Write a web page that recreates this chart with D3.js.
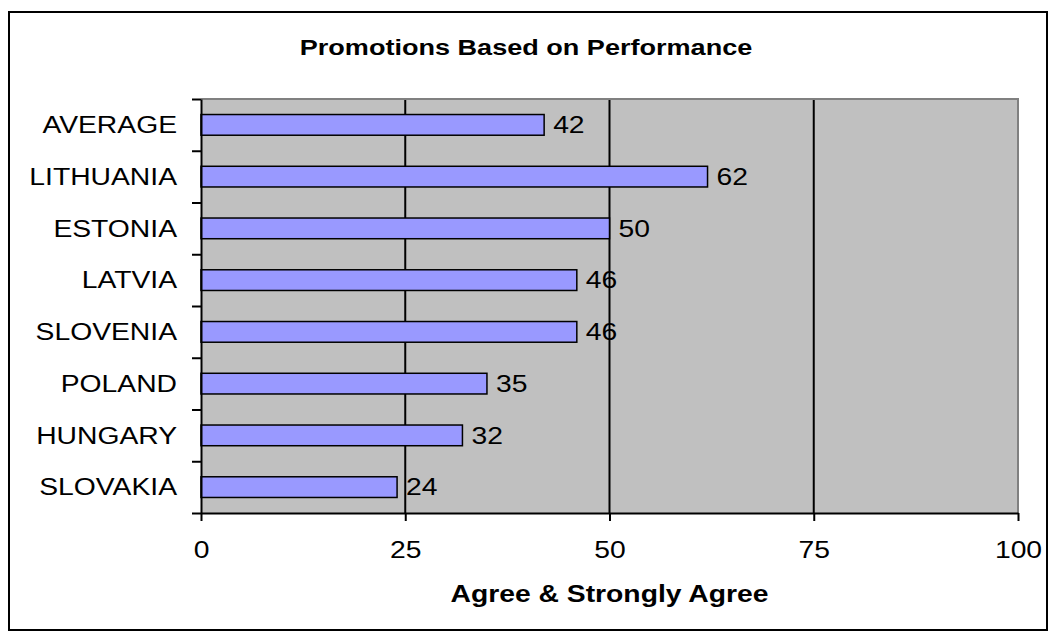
<!DOCTYPE html>
<html>
<head>
<meta charset="utf-8">
<script src="https://cdn.jsdelivr.net/npm/d3@7"></script>
<style>
  html, body { margin: 0; padding: 0; background: #fff; }
  svg { display: block; }
  text { font-family: "Liberation Sans", Arial, sans-serif; fill: #000; }
</style>
</head>
<body>
<svg id="chart" width="1049" height="632"></svg>
<script>
const categories = ["AVERAGE", "LITHUANIA", "ESTONIA", "LATVIA", "SLOVENIA", "POLAND", "HUNGARY", "SLOVAKIA"];
const values = [42, 62, 50, 46, 46, 35, 32, 24];
const xTicks = [0, 25, 50, 75, 100];
const titleText = "Promotions Based on Performance";
const xTitleText = "Agree & Strongly Agree";

const W = 1049, H = 632;
const SX = 1.23; // horizontal text stretch seen in the reference
const plot = { left: 201, right: 1018, top: 99, bottom: 513 };

const svg = d3.select("#chart");

// outer border
svg.append("rect")
  .attr("x", 9).attr("y", 12).attr("width", 1038).attr("height", 618)
  .attr("fill", "#fff").attr("stroke", "#000").attr("stroke-width", 2);

const x = d3.scaleLinear().domain([0, 100]).range([plot.left, plot.right]);
const y = d3.scaleBand().domain(categories).range([plot.top, plot.bottom]).paddingInner(0.6).paddingOuter(0.3);
const yEdge = d3.scaleLinear().domain([0, categories.length]).range([plot.top, plot.bottom]);

// plot background
svg.append("rect")
  .attr("x", plot.left).attr("y", plot.top)
  .attr("width", plot.right - plot.left).attr("height", plot.bottom - plot.top)
  .attr("fill", "#C0C0C0");

// gridlines
svg.append("g").selectAll("line")
  .data(xTicks.filter(t => t > 0 && t < 100))
  .join("line")
  .attr("x1", d => x(d)).attr("x2", d => x(d))
  .attr("y1", plot.top).attr("y2", plot.bottom)
  .attr("stroke", "#000").attr("stroke-width", 2);

// plot border top/right (gray)
svg.append("path")
  .attr("d", `M${plot.left},${plot.top}H${plot.right}V${plot.bottom}`)
  .attr("fill", "none").attr("stroke", "#808080").attr("stroke-width", 2);

// bars
svg.append("g").selectAll("rect")
  .data(categories)
  .join("rect")
  .attr("x", x(0))
  .attr("y", d => y(d))
  .attr("width", (d, i) => x(values[i]) - x(0))
  .attr("height", y.bandwidth())
  .attr("fill", "#9999FF")
  .attr("stroke", "#000").attr("stroke-width", 1.5);

// value labels
svg.append("g").selectAll("text")
  .data(categories)
  .join("text")
  .attr("transform", (d, i) => `translate(${x(values[i]) + 9},${y(d) + y.bandwidth() / 2 + 8.3}) scale(${SX},1)`)
  .attr("font-size", 23)
  .text((d, i) => values[i]);

// x axis
const xAxis = svg.append("g")
  .attr("transform", `translate(0,${plot.bottom})`)
  .call(d3.axisBottom(x).tickValues(xTicks).tickSize(8).tickPadding(21).tickSizeOuter(0));
xAxis.select(".domain").attr("stroke", "#000").attr("stroke-width", 2);
xAxis.selectAll(".tick line").attr("stroke", "#000").attr("stroke-width", 2);
xAxis.selectAll(".tick text")
  .attr("font-size", 23)
  .attr("font-family", "Liberation Sans, Arial, sans-serif")
  .attr("transform", `scale(${SX},1)`);

// y axis (ticks at category boundaries)
const yAxis = svg.append("g")
  .attr("transform", `translate(${plot.left},0)`)
  .call(d3.axisLeft(yEdge).tickValues(d3.range(categories.length + 1)).tickSize(9).tickFormat("").tickSizeOuter(0));
yAxis.select(".domain").attr("stroke", "#000").attr("stroke-width", 2);
yAxis.selectAll(".tick line").attr("stroke", "#000").attr("stroke-width", 2);

// category labels
svg.append("g").selectAll("text")
  .data(categories)
  .join("text")
  .attr("text-anchor", "end")
  .attr("transform", d => `translate(177,${y(d) + y.bandwidth() / 2 + 8.3}) scale(${SX},1)`)
  .attr("font-size", 23)
  .text(d => d);

// title
svg.append("text")
  .attr("text-anchor", "middle")
  .attr("transform", `translate(526,55) scale(${SX},1)`)
  .attr("font-size", 22)
  .attr("font-weight", "bold")
  .text(titleText);

// x axis title
svg.append("text")
  .attr("text-anchor", "middle")
  .attr("transform", `translate(${(plot.left + plot.right) / 2},601.5) scale(${SX},1)`)
  .attr("font-size", 23)
  .attr("font-weight", "bold")
  .text(xTitleText);
</script>
</body>
</html>
